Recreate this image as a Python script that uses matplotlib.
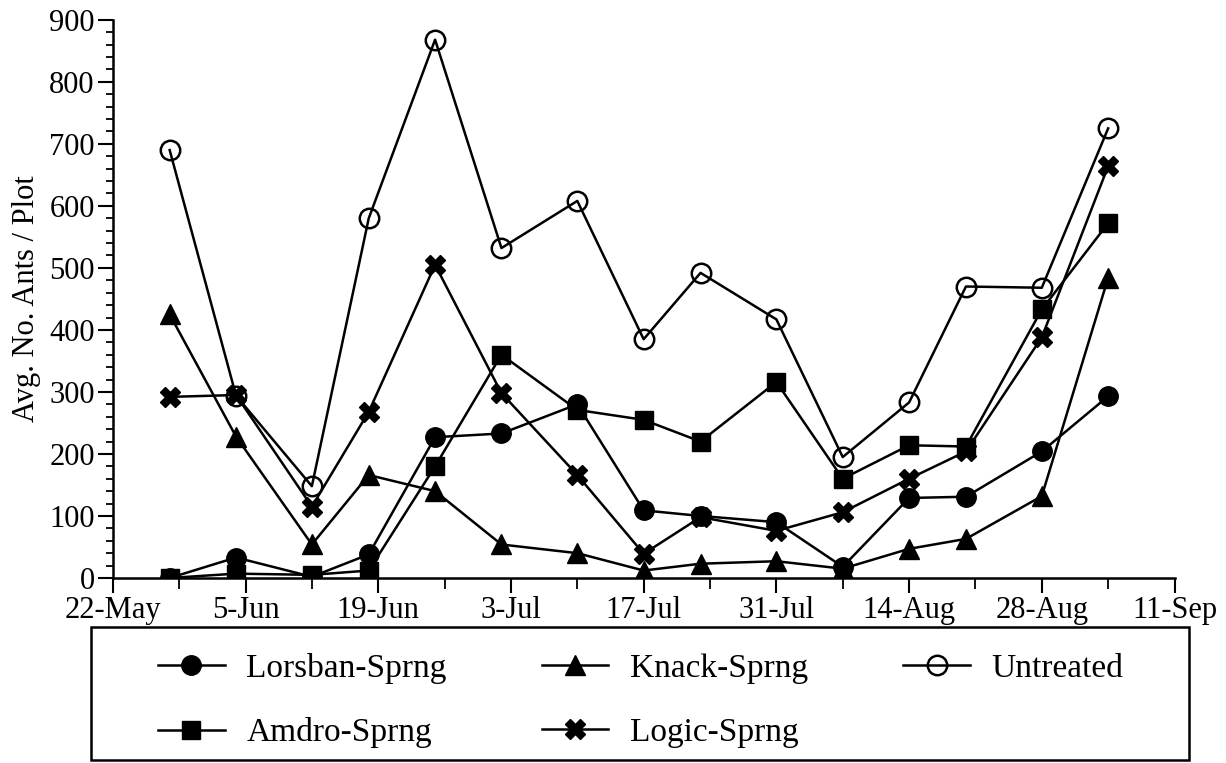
import datetime as dt
import matplotlib
matplotlib.use("Agg")
import matplotlib.pyplot as plt
import matplotlib.dates as mdates
from matplotlib.patches import Rectangle
from matplotlib.ticker import MultipleLocator

plt.rcParams['font.family'] = ['Liberation Serif', 'DejaVu Serif']

# sampling dates (month, day)
sample_days = [(5, 28), (6, 4), (6, 12), (6, 18), (6, 25), (7, 2), (7, 10), (7, 17),
               (7, 23), (7, 31), (8, 7), (8, 14), (8, 20), (8, 28), (9, 4)]

lorsban = [0, 33, 2, 38, 227, 233, 280, 109, 100, 90, 18, 129, 131, 204, 293]
knack = [425, 228, 54, 166, 140, 54, 40, 12, 23, 27, 15, 47, 63, 132, 484]
untreated = [690, 294, 148, 580, 868, 532, 608, 385, 492, 417, 195, 283, 470, 468, 725]
amdro = [0, 7, 5, 12, 180, 360, 271, 255, 220, 316, 160, 214, 212, 433, 572]
logic = [292, 295, 115, 268, 505, 298, 166, 39, 98, 76, 106, 160, 204, 388, 664]

dates = [dt.date(2003, m, d) for m, d in sample_days]

fig = plt.figure(figsize=(12.26, 7.63), dpi=100)
ax = fig.add_axes([0.092, 0.2425, 0.866, 0.7315])

lw = 1.8
l1, = ax.plot(dates, lorsban, color='black', lw=lw, marker='o', ms=14, label='Lorsban-Sprng')
l2, = ax.plot(dates, knack, color='black', lw=lw, marker='^', ms=14, label='Knack-Sprng')
l3, = ax.plot(dates, untreated, color='black', lw=lw, marker='o', ms=14, mfc='none',
              mew=1.8, label='Untreated')
l4, = ax.plot(dates, amdro, color='black', lw=lw, marker='s', ms=13, label='Amdro-Sprng')
l5, = ax.plot(dates, logic, color='black', lw=lw, marker='X', ms=14, label='Logic-Sprng')

start = dt.date(2003, 5, 22)
ax.set_xlim(start, dt.date(2003, 9, 11))
ax.set_ylim(0, 900)
major_dates = [start + dt.timedelta(days=14 * i) for i in range(9)]
minor_dates = [start + dt.timedelta(days=7 * i) for i in range(17)]
ax.set_xticks([mdates.date2num(d) for d in major_dates])
ax.set_xticks([mdates.date2num(d) for d in minor_dates], minor=True)
ax.set_xticklabels([f"{d.day}-{d.strftime('%b')}" for d in major_dates])

ax.yaxis.set_major_locator(MultipleLocator(100))
ax.yaxis.set_minor_locator(MultipleLocator(20))

ax.spines['top'].set_visible(False)
ax.spines['right'].set_visible(False)
for s in ('left', 'bottom'):
    ax.spines[s].set_linewidth(1.8)

ax.tick_params(axis='x', which='major', direction='out', length=11, width=1.5, labelsize=22, pad=2)
ax.tick_params(axis='x', which='minor', direction='out', length=8, width=1.3)
ax.tick_params(axis='y', which='major', direction='out', length=11, width=1.5, labelsize=22, pad=2)
ax.tick_params(axis='y', which='minor', direction='out', length=5, width=1.3)

ax.set_ylabel('Avg. No. Ants / Plot', fontsize=22, labelpad=6)

leg = fig.legend([l1, l4, l2, l5, l3],
                 ['Lorsban-Sprng', 'Amdro-Sprng', 'Knack-Sprng', 'Logic-Sprng', 'Untreated'],
                 ncol=3, loc='upper left', bbox_to_anchor=(158 / 1226, 1 - 653 / 763),
                 fontsize=24, frameon=False, borderpad=0, borderaxespad=0,
                 handlelength=2.0, handletextpad=0.65, labelspacing=1.0,
                 columnspacing=2.85)

fig.patches.append(Rectangle((91 / 1226, 0.004), 1098 / 1226, 133 / 763,
                             transform=fig.transFigure, fill=False,
                             edgecolor='black', linewidth=1.8))

fig.savefig('out.png', dpi=100)
